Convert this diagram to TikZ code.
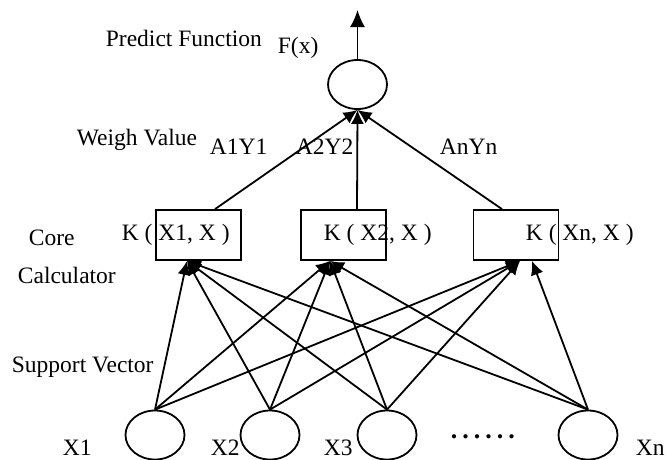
\documentclass[tikz,border=0pt]{standalone}
\usepackage{fontspec}
\setmainfont{Liberation Serif}
\usetikzlibrary{shapes.geometric,arrows.meta}

\begin{document}
\begin{tikzpicture}[x=1pt,y=-1pt,>={Latex[length=14pt,width=13pt]},line width=1.8pt,
    font=\fontsize{23.5}{28}\selectfont,
    unit/.style={draw,ellipse,minimum width=59pt,minimum height=49pt,inner sep=0pt},
    kbox/.style={draw,rectangle,minimum width=85pt,minimum height=50pt,inner sep=0pt},
    txt/.style={anchor=base west,inner sep=0pt}]
    \useasboundingbox (0,0) rectangle (671,459);
    \node[unit] (out) at (357.5,84.5) {} ;
    \coordinate (top) at (357.5,10) ;
    \draw[->,>={Latex[length=17pt,width=15pt]}] (out) -- (top) ;
    \node[kbox] (k1) at (198.5,235) {} ;
    \node[kbox] (k2) at (343.5,235) {} ;
    \node[kbox] (k3) at (516,235) {} ;
    \node[unit] (x1) at (155,435) {} ;
    \node[unit] (x2) at (270,435) {} ;
    \node[unit] (x3) at (387,435) {} ;
    \node[unit] (xn) at (588,435) {} ;
    \draw[->] ([xshift=16.5pt]k1.north) -- (out.south) ;
    \draw[->] ([xshift=13.5pt]k2.north) -- (out.south) ;
    \draw[->] ([xshift=-14pt]k3.north) -- (out.south) ;
    \foreach \s in {x1,x2,x3,xn} {
      \draw[->] (\s.north) -- ([xshift=-11.5pt]k1.south) ;
      \draw[->] (\s.north) -- ([xshift=-13.5pt]k2.south) ;
    }
    \foreach \s in {x1,x2,x3}
      \draw[->] (\s.north) -- ([xshift=4pt]k3.south) ;
    \draw[->] (xn.north) -- ([xshift=16pt]k3.south) ;
    \node[txt] (pf) at (105,46) {Predict Function} ;
    \node[txt] (fx) at (277,53) {F(x)} ;
    \node[txt] (wv) at (76,145) {Weigh Value} ;
    \node[txt] (w1) at (209,154) {A1Y1} ;
    \node[txt] (w2) at (295,154) {A2Y2} ;
    \node[txt] (wn) at (439,154) {AnYn} ;
    \node[txt] (core) at (28,245) {Core} ;
    \node[txt] (calc) at (17,283) {Calculator} ;
    \node[txt] (t1) at (121,240) {K ( X1, X )} ;
    \node[txt] (t2) at (323,240) {K ( X2, X )} ;
    \node[txt] (tn) at (525,240) {K ( Xn, X )} ;
    \node[txt] (sv) at (11,372) {Support Vector} ;
    \node[txt] (l1) at (62,455) {X1} ;
    \node[txt] (l2) at (210,455) {X2} ;
    \node[txt] (l3) at (323,455) {X3} ;
    \node[txt] (ln) at (635,455) {Xn} ;
    \node[txt,font=\fontsize{26}{30}\selectfont\bfseries] (dots) at (450,438) {.\kern5pt.\kern5pt.\kern5pt.\kern5pt.\kern5pt.} ;
  \end{tikzpicture}
\end{document}
